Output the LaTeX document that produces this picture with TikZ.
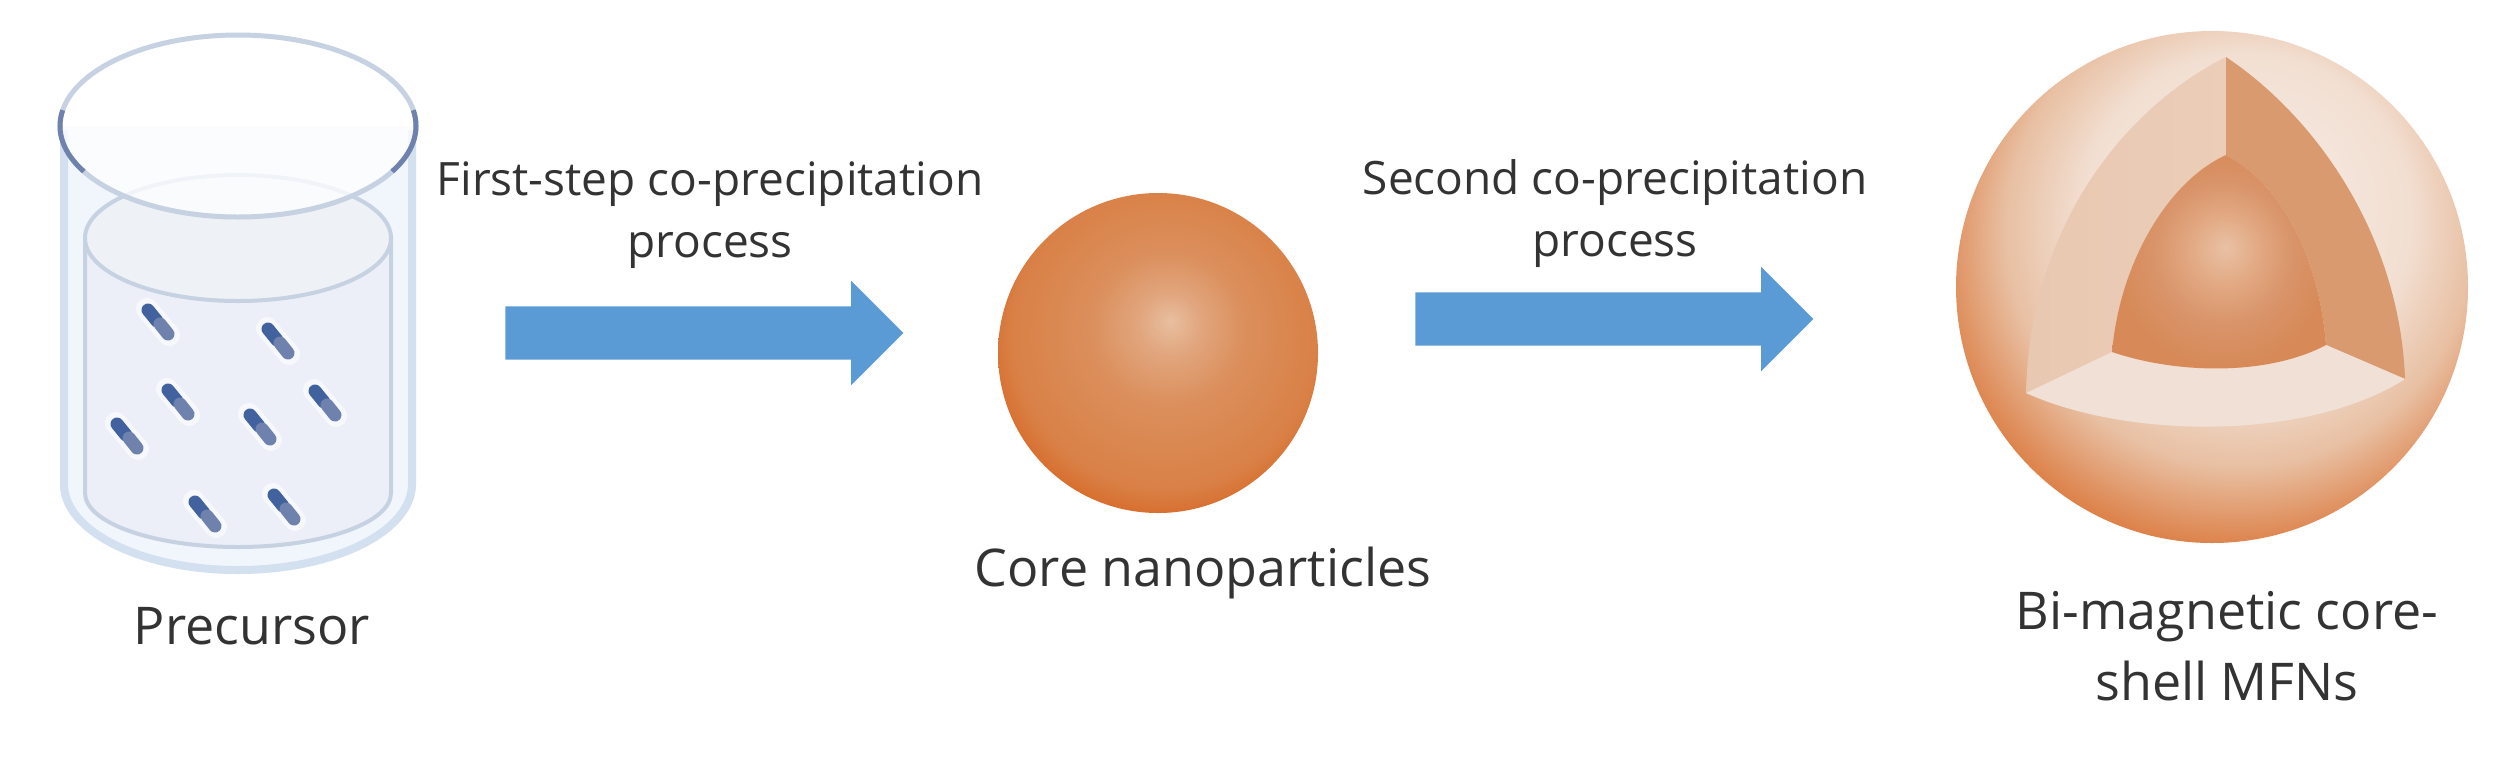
\documentclass[tikz,border=0pt]{standalone}
\usepackage{fontspec}
\setmainfont{Open Sans}
\usepackage{tikz}
\usetikzlibrary{positioning}
\usetikzlibrary{shapes.arrows}
\definecolor{arrowblue}{HTML}{5B9BD5}
\definecolor{rimgray}{HTML}{C6D1E2}
\definecolor{wallblue}{HTML}{D3E0F0}
\definecolor{glassblue}{HTML}{F1F6FC}
\definecolor{liquidblue}{HTML}{ECEFF8}
\definecolor{liquidtop}{HTML}{EEF1F6}
\definecolor{specblue}{HTML}{41629F}
\definecolor{specgray}{HTML}{6F82AE}
\definecolor{leftwall}{HTML}{EBCDB8}
\definecolor{rightwall}{HTML}{D89A6E}
\definecolor{floorpeach}{HTML}{F1E0D5}
\definecolor{coreA}{HTML}{E8BFA0}
\definecolor{coreB}{HTML}{E1A57D}
\definecolor{coreC}{HTML}{DB8F5C}
\definecolor{coreD}{HTML}{D98046}
\definecolor{coreE}{HTML}{D6621E}
\definecolor{shellA}{HTML}{F6EAE2}
\definecolor{shellB}{HTML}{F2DFD2}
\definecolor{shellC}{HTML}{E8BFA2}
\definecolor{shellD}{HTML}{DF8F5D}
\definecolor{shellE}{HTML}{D8621C}
\definecolor{innerA}{HTML}{E9C1A5}
\definecolor{innerB}{HTML}{E2A983}
\definecolor{innerC}{HTML}{D9946A}
\definecolor{innerD}{HTML}{D78A58}
\pgfdeclareradialshading{corefill}{\pgfpoint{2bp}{5bp}}{color(0bp)=(coreA);color(5bp)=(coreB);color(12bp)=(coreC);color(24bp)=(coreD);color(30bp)=(coreE);color(50bp)=(coreE)}
\pgfdeclareradialshading{shellfill}{\pgfpoint{5bp}{10bp}}{color(0bp)=(shellA);color(16bp)=(shellB);color(23bp)=(shellC);color(28bp)=(shellD);color(33bp)=(shellE);color(50bp)=(shellE)}
\pgfdeclareradialshading{innerfill}{\pgfpoint{1.5bp}{4bp}}{color(0bp)=(innerA);color(8bp)=(innerB);color(16bp)=(innerC);color(25bp)=(innerD);color(50bp)=(innerD)}
\begin{document}
\begin{tikzpicture}[x=1pt, y=-1pt,
    caption/.style = {align=center, text=black!80, font=\fontsize{52}{71}\selectfont},
    steplabel/.style = {align=center, text=black!80, font=\fontsize{46}{62}\selectfont},
    steparrow/.style = {single arrow, fill=arrowblue, inner xsep=0pt, inner ysep=26.5pt, minimum height=398pt,
        single arrow head extend=25.5pt, single arrow tip angle=90},
    core/.style = {circle, inner sep=0pt, minimum size=320pt, shading=corefill},
    shell/.style = {circle, inner sep=0pt, minimum size=512pt, shading=shellfill},
    spec/.style = {line cap=round, line width=13pt}]
    \useasboundingbox (0,0) rectangle (2516,772);
    % Beaker
    \fill[glassblue] (60,126) -- (60,484) arc[start angle=180, end angle=0, x radius=178, y radius=90] -- (416,126) -- cycle;
    \draw[wallblue, line width=8pt] (64,130) -- (64,484) arc[start angle=180, end angle=0, x radius=174, y radius=86] -- (412,130);
    \fill[liquidblue, draw=rimgray, line width=4pt] (85,238) -- (85,493) arc[start angle=180, end angle=0, x radius=153, y radius=54] -- (391,238) -- cycle;
    \fill[liquidtop, draw=rimgray, line width=4pt] (238,238) ellipse[x radius=153, y radius=63];
    \fill[white, fill opacity=.75, draw=rimgray, line width=5pt] (238,126) ellipse[x radius=178, y radius=91];
    \draw[specgray, line width=5pt] (238,126) ++(190:178 and 91) arc[start angle=190, end angle=150, x radius=178, y radius=91];
    \draw[specgray, line width=5pt] (238,126) ++(-10:178 and 91) arc[start angle=-10, end angle=30, x radius=178, y radius=91];
    % Particles
    \foreach \px/\py in {158/322, 278/341, 178/402, 325/403, 127/436, 260/427, 205/514, 284/507} {
        \draw[white, line width=22pt, line cap=round, opacity=.6] (\px-11,\py-13) -- (\px+11,\py+13);
        \draw[spec, specblue] (\px-10,\py-12) -- (\px-1,\py-1);
        \draw[spec, specgray] (\px+2,\py+2) -- (\px+10,\py+12);
    }
    % Spheres
    \node[core] (corenp) at (1158,353) {};
    \node[shell] (shellnp) at (2212,287) {};
    % Cut-out of the shell
    \shade[left color=leftwall!90!rightwall, right color=leftwall] (2226,57) .. controls (2130,105) and (2030,220) .. (2026,393) -- (2112,352) .. controls (2120,260) and (2170,180) .. (2226,155) -- cycle;
    \fill[rightwall] (2226,57) .. controls (2320,120) and (2400,240) .. (2405,379) -- (2326,345) .. controls (2320,270) and (2290,190) .. (2226,155) -- cycle;
    \fill[floorpeach] (2026,393) -- (2112,352) .. controls (2180,375) and (2270,375) .. (2326,345) -- (2405,379) .. controls (2310,440) and (2130,440) .. (2026,393) -- cycle;
    \shade[shading=innerfill] (2226,155) .. controls (2170,180) and (2120,260) .. (2112,352) .. controls (2180,375) and (2270,375) .. (2326,345) .. controls (2320,270) and (2290,190) .. (2226,155) -- cycle;
    % Arrows
    \node[steparrow] (arrow1) at (691,333) {};
    \node[steparrow] (arrow2) at (1601,319) {};
    % Labels
    \node[caption] (precursor) at (252,626) {Precursor};
    \node[caption] (corelabel) at (1203,573) {Core nanoparticles};
    \node[caption] (shelllabel) at (2227,646) {Bi-magnetic core-\\shell MFNs};
    \node[steplabel] (firststep) at (710,215) {First-step co-precipitation\\process};
    \node[steplabel] (secondstep) at (1615,214) {Second co-precipitation\\process};
\end{tikzpicture}
\end{document}
